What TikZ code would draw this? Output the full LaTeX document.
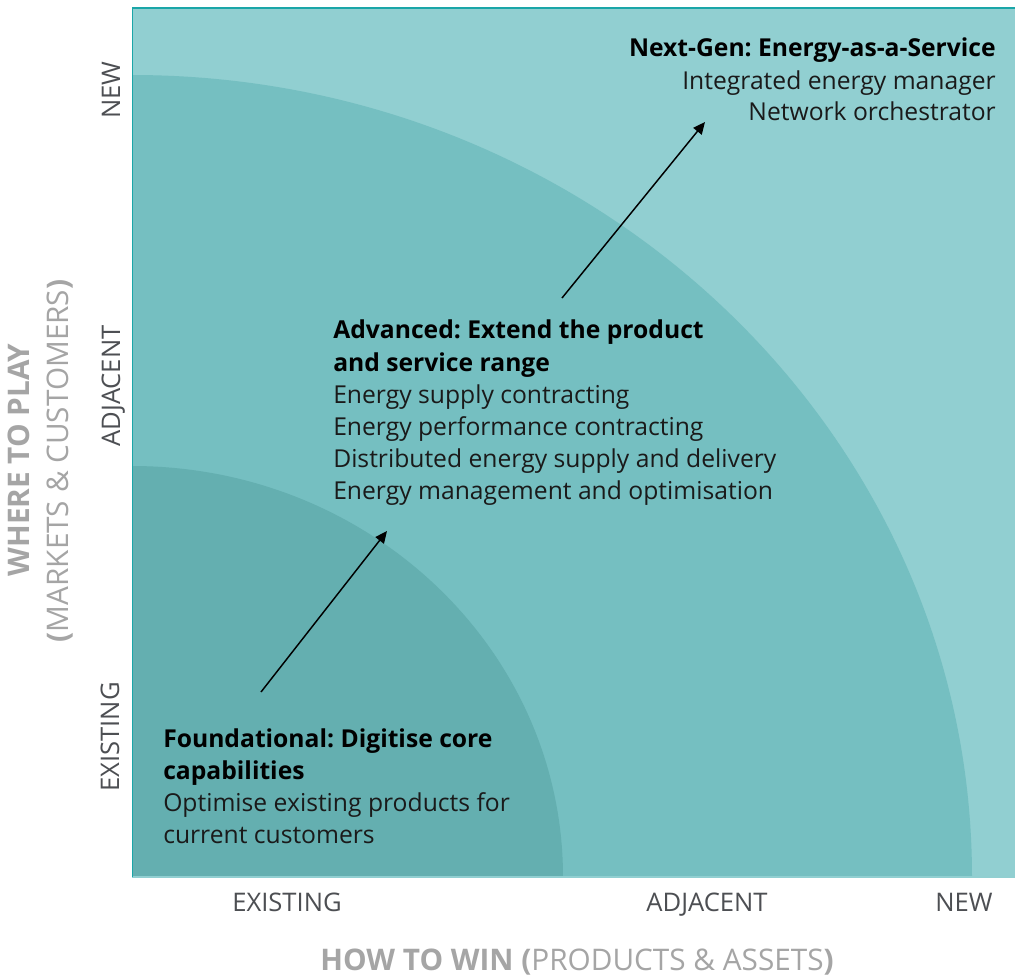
\documentclass[tikz,border=0pt]{standalone}
\usepackage{fontspec}
\setmainfont{Open Sans}
\frenchspacing
\usetikzlibrary{arrows.meta}
\definecolor{outerc}{HTML}{91CFD1}
\definecolor{midc}{HTML}{75BFC1}
\definecolor{innerc}{HTML}{64AFB0}
\definecolor{framec}{HTML}{1AA6A8}
\definecolor{axisc}{HTML}{4D4F53}
\definecolor{titlec}{HTML}{A5A5A5}
\definecolor{bodyc}{HTML}{1A1A1A}
\begin{document}
\begin{tikzpicture}[x=0.75pt,y=-0.75pt,
  bodytext/.style={inner sep=0pt, font=\fontsize{18.5}{24}\selectfont, text=bodyc},
  headtext/.style={bodytext, font=\fontsize{18.5}{24}\selectfont\bfseries, text=black},
  axislabel/.style={inner sep=0pt, anchor=base, font=\fontsize{19.2}{22}\selectfont, text=axisc},
  axistitle/.style={inner sep=0pt, anchor=base, font=\fontsize{22.3}{26}\selectfont, text=titlec},
  arrowline/.style={line width=1.1pt, black, -{Triangle[length=9pt,width=8pt]}}
]
\useasboundingbox (0,0) rectangle (1015,976);
\fill[white] (0,0) rectangle (1015,976);
\begin{scope}
  \clip (132,8) rectangle (1015,877);
  \fill[outerc] (132,8) rectangle (1015,877);
  \fill[midc] (132,877) ellipse [x radius=840, y radius=802];
  \fill[innerc] (132,877) ellipse [x radius=431, y radius=411];
\end{scope}
\draw[outerc, line width=1.2pt] (132,877) -- (1015,877);
\draw[framec, line width=1.1pt] (1015,8) -- (132.5,8) -- (132.5,877);

% Next-Gen
\node[headtext, anchor=base east] (ng1) at (996,56) {Next-Gen: Energy-as-a-Service};
\node[bodytext, anchor=base east] (ng2) at (996,89) {Integrated energy manager};
\node[bodytext, anchor=base east] (ng3) at (996,120) {Network orchestrator};

% Advanced
\node[headtext, anchor=base west] (ad1) at (333,338) {Advanced: Extend the product};
\node[headtext, anchor=base west] (ad2) at (333,371) {and service range};
\node[bodytext, anchor=base west] (ad3) at (333,403) {Energy supply contracting};
\node[bodytext, anchor=base west] (ad4) at (333,435) {Energy performance contracting};
\node[bodytext, anchor=base west] (ad5) at (333,467) {Distributed energy supply and delivery};
\node[bodytext, anchor=base west] (ad6) at (333,499) {Energy management and optimisation};

% Foundational
\node[headtext, anchor=base west] (fd1) at (163,747) {Foundational: Digitise core};
\node[headtext, anchor=base west] (fd2) at (163,779) {capabilities};
\node[bodytext, anchor=base west] (fd3) at (163,811) {Optimise existing products for};
\node[bodytext, anchor=base west] (fd4) at (163,843) {current customers};

% arrows
\coordinate (a1s) at (261,692);
\coordinate (a1e) at (387,531);
\coordinate (a2s) at (562,298);
\coordinate (a2e) at (705,122);
\draw[arrowline] (a1s) -- (a1e);
\draw[arrowline] (a2s) -- (a2e);

% x axis labels
\node[axislabel] (xex) at (287,911) {EXISTING};
\node[axislabel] (xad) at (707,911) {ADJACENT};
\node[axislabel] (xnw) at (964,911) {NEW};
\node[axistitle] (xt) at (577,970) {\textbf{HOW TO WIN (}PRODUCTS \& ASSETS\textbf{)}};

% y axis labels
\node[axislabel, rotate=90] (yex) at (119,737) {EXISTING};
\node[axislabel, rotate=90] (yad) at (120,386) {ADJACENT};
\node[axislabel, rotate=90] (ynw) at (120,90) {NEW};
\node[axistitle, rotate=90] (yt1) at (29,460) {\textbf{WHERE TO PLAY}};
\node[axistitle, rotate=90] (yt2) at (68,461) {\textbf{(}MARKETS \& CUSTOMERS\textbf{)}};
\end{tikzpicture}
\end{document}
